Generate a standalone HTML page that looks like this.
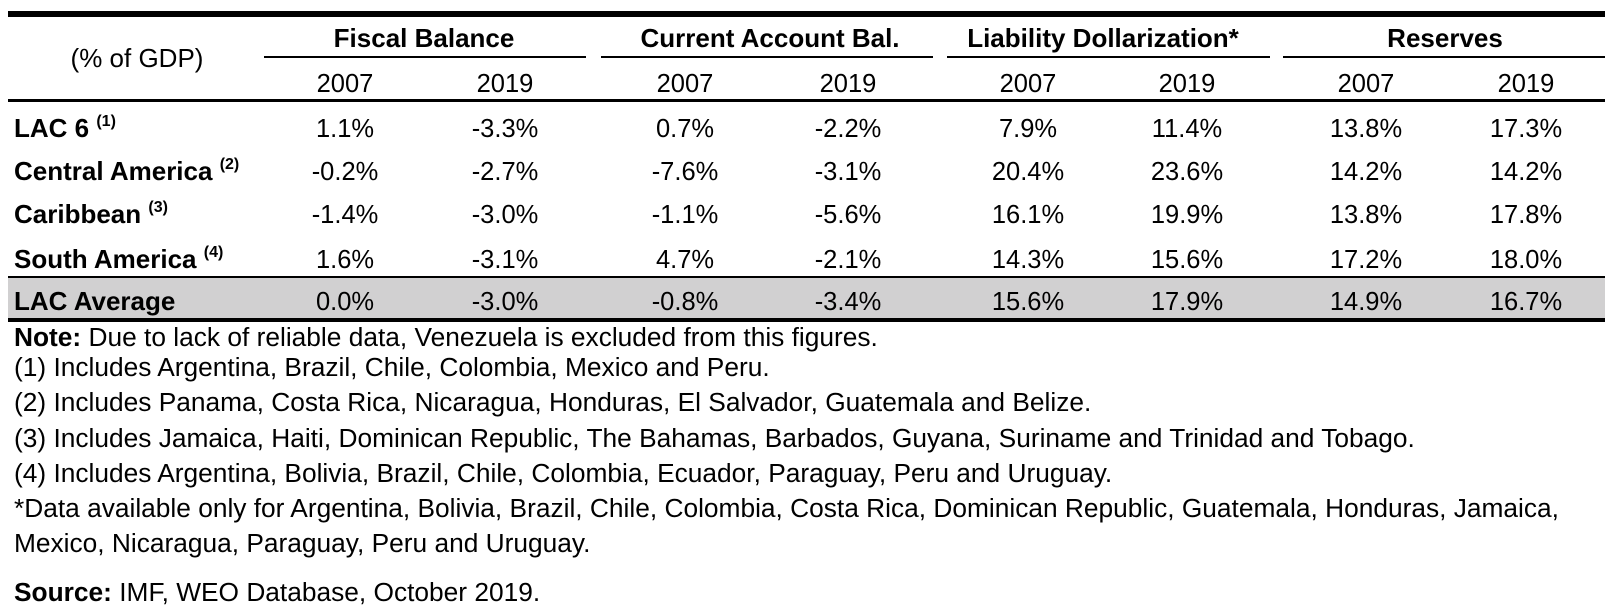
<!DOCTYPE html>
<html><head><meta charset="utf-8"><style>
html,body{margin:0;padding:0;background:#fff;}
svg{display:block;}
text{font-family:"Liberation Sans",Arial,sans-serif;fill:#000;}
</style></head><body>
<svg width="1616" height="616" viewBox="0 0 1616 616" xmlns="http://www.w3.org/2000/svg">
<rect x="8" y="278" width="1597" height="40" fill="#d1d0d1"/>
<rect x="8" y="11" width="1597" height="6" fill="#000"/>
<rect x="264" y="56" width="322" height="2" fill="#000"/>
<rect x="601" y="56" width="332" height="2" fill="#000"/>
<rect x="947" y="56" width="323" height="2" fill="#000"/>
<rect x="1283" y="56" width="322" height="2" fill="#000"/>
<rect x="8" y="99" width="1597" height="3" fill="#000"/>
<rect x="8" y="276" width="1597" height="2" fill="#000"/>
<rect x="8" y="318" width="1597" height="4" fill="#000"/>

<g font-size="26" font-weight="bold" text-anchor="middle">
<text x="424" y="47">Fiscal Balance</text>
<text x="770" y="47">Current Account Bal.</text>
<text x="1103" y="47">Liability Dollarization*</text>
<text x="1445" y="47">Reserves</text>
</g>
<text x="137" y="67" font-size="26" text-anchor="middle">(% of GDP)</text>
<g font-size="25.5" text-anchor="middle">
<text x="345" y="92">2007</text><text x="505" y="92">2019</text>
<text x="685" y="92">2007</text><text x="848" y="92">2019</text>
<text x="1028" y="92">2007</text><text x="1187" y="92">2019</text>
<text x="1366" y="92">2007</text><text x="1526" y="92">2019</text>
</g>
<g font-size="26" font-weight="bold">
<text x="14" y="137">LAC 6 <tspan font-size="16" dy="-11">(1)</tspan></text>
<text x="14" y="180">Central America <tspan font-size="16" dy="-11">(2)</tspan></text>
<text x="14" y="223">Caribbean <tspan font-size="16" dy="-11">(3)</tspan></text>
<text x="14" y="268">South America <tspan font-size="16" dy="-11">(4)</tspan></text>
<text x="14" y="310">LAC Average</text>
</g>
<g font-size="25.5" text-anchor="middle">
<text x="345" y="137">1.1%</text><text x="505" y="137">-3.3%</text><text x="685" y="137">0.7%</text><text x="848" y="137">-2.2%</text><text x="1028" y="137">7.9%</text><text x="1187" y="137">11.4%</text><text x="1366" y="137">13.8%</text><text x="1526" y="137">17.3%</text>
<text x="345" y="180">-0.2%</text><text x="505" y="180">-2.7%</text><text x="685" y="180">-7.6%</text><text x="848" y="180">-3.1%</text><text x="1028" y="180">20.4%</text><text x="1187" y="180">23.6%</text><text x="1366" y="180">14.2%</text><text x="1526" y="180">14.2%</text>
<text x="345" y="223">-1.4%</text><text x="505" y="223">-3.0%</text><text x="685" y="223">-1.1%</text><text x="848" y="223">-5.6%</text><text x="1028" y="223">16.1%</text><text x="1187" y="223">19.9%</text><text x="1366" y="223">13.8%</text><text x="1526" y="223">17.8%</text>
<text x="345" y="268">1.6%</text><text x="505" y="268">-3.1%</text><text x="685" y="268">4.7%</text><text x="848" y="268">-2.1%</text><text x="1028" y="268">14.3%</text><text x="1187" y="268">15.6%</text><text x="1366" y="268">17.2%</text><text x="1526" y="268">18.0%</text>
<text x="345" y="310">0.0%</text><text x="505" y="310">-3.0%</text><text x="685" y="310">-0.8%</text><text x="848" y="310">-3.4%</text><text x="1028" y="310">15.6%</text><text x="1187" y="310">17.9%</text><text x="1366" y="310">14.9%</text><text x="1526" y="310">16.7%</text>
</g>
<g font-size="26.3">
<text x="14" y="346"><tspan font-weight="bold">Note:</tspan> Due to lack of reliable data, Venezuela is excluded from this figures.</text>
<text x="14" y="376">(1) Includes Argentina, Brazil, Chile, Colombia, Mexico and Peru.</text>
<text x="14" y="411">(2) Includes Panama, Costa Rica, Nicaragua, Honduras, El Salvador, Guatemala and Belize.</text>
<text x="14" y="447">(3) Includes Jamaica, Haiti, Dominican Republic, The Bahamas, Barbados, Guyana, Suriname and Trinidad and Tobago.</text>
<text x="14" y="482">(4) Includes Argentina, Bolivia, Brazil, Chile, Colombia, Ecuador, Paraguay, Peru and Uruguay.</text>
<text x="14" y="517">*Data available only for Argentina, Bolivia, Brazil, Chile, Colombia, Costa Rica, Dominican Republic, Guatemala, Honduras, Jamaica,</text>
<text x="14" y="552">Mexico, Nicaragua, Paraguay, Peru and Uruguay.</text>
<text x="14" y="601"><tspan font-weight="bold">Source:</tspan> IMF, WEO Database, October 2019.</text>
</g>
</svg>
</body></html>
